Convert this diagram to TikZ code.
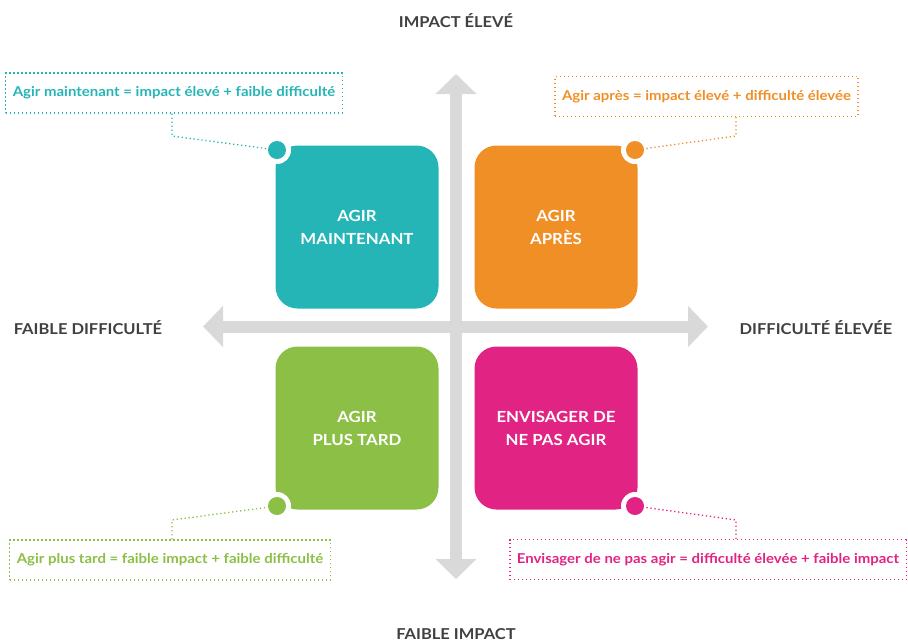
\documentclass[tikz,border=0pt]{standalone}
\usepackage{fontspec}
\setmainfont{Lato}[FakeStretch=1.1]
\usetikzlibrary{arrows.meta}
\definecolor{teal1}{RGB}{37,181,183}
\definecolor{orange1}{RGB}{240,143,37}
\definecolor{green1}{RGB}{139,191,69}
\definecolor{pink1}{RGB}{225,35,131}
\definecolor{axisgray}{RGB}{217,217,217}
\definecolor{labelgray}{RGB}{64,64,64}
\begin{document}
\begin{tikzpicture}[x=1pt,y=-1pt]
  \tikzstyle{axis}=[draw=axisgray,line width=12pt,{Triangle[length=20pt,width=40pt]}-{Triangle[length=20pt,width=40pt]}]
  \tikzstyle{axislabel}=[text=labelgray,font=\bfseries\fontsize{15}{17}\selectfont]
  \tikzstyle{quad}=[rounded corners=22pt,minimum size=163pt,text=white,align=center,font=\bfseries\fontsize{15.3}{23}\selectfont]
  \tikzstyle{ring}=[circle,fill=white,minimum size=28pt,inner sep=0pt]
  \tikzstyle{dot}=[circle,minimum size=18pt,inner sep=0pt]
  \tikzstyle{callout}=[line width=1.3pt,dash pattern=on 1.3pt off 2.7pt,minimum height=40pt,inner xsep=7pt,font=\bfseries\fontsize{13.6}{15}\selectfont]
  \tikzstyle{link}=[line width=1.3pt,dash pattern=on 1.3pt off 2.7pt]
  \useasboundingbox (0,0) rectangle (908,641);
  % axes
  \coordinate (left) at (203,326.5);
  \coordinate (right) at (708,326.5);
  \coordinate (top) at (456,74);
  \coordinate (bottom) at (456,579);
  \draw[axis] (left) -- (right);
  \draw[axis] (bottom) -- (top);
  \node[axislabel] (impH) at (456,21) {IMPACT ÉLEVÉ};
  \node[axislabel] (impL) at (456,634) {FAIBLE IMPACT};
  \node[axislabel] (difL) at (88,328) {FAIBLE DIFFICULTÉ};
  \node[axislabel] (difH) at (816,328) {DIFFICULTÉ ÉLEVÉE};
  % quadrants
  \node[quad,fill=teal1] (now) at (357,227) {AGIR\\MAINTENANT};
  \node[quad,fill=orange1] (after) at (556,227) {AGIR\\APRÈS};
  \node[quad,fill=green1] (later) at (357,428) {AGIR\\PLUS TARD};
  \node[quad,fill=pink1] (never) at (556,428) {ENVISAGER DE\\NE PAS AGIR};
  % dots
  \node[ring] at (277,150) {};
  \node[ring] at (635,150) {};
  \node[ring] at (277,506) {};
  \node[ring] at (635,506) {};
  \node[dot,fill=teal1] (dotA) at (277,150) {};
  \node[dot,fill=orange1] (dotB) at (635,150) {};
  \node[dot,fill=green1] (dotC) at (277,506) {};
  \node[dot,fill=pink1] (dotD) at (635,506) {};
  % callouts
  \node[callout,draw=teal1,text=teal1] (calA) at (174,93) {Agir maintenant = impact élevé + faible difficulté};
  \node[callout,draw=orange1,text=orange1] (calB) at (706.5,96.5) {Agir après = impact élevé + difficulté élevée};
  \node[callout,draw=green1,text=green1] (calC) at (170,560) {Agir plus tard = faible impact + faible difficulté};
  \node[callout,draw=pink1,text=pink1] (calD) at (708,559.5) {Envisager de ne pas agir = difficulté élevée + faible impact};
  \coordinate (kA) at (172,136);
  \coordinate (kB) at (736,136);
  \coordinate (kC) at (172,520);
  \coordinate (kD) at (736,520);
  \draw[link,teal1] (calA.south -| kA) -- (kA) -- (dotA);
  \draw[link,orange1] (calB.south -| kB) -- (kB) -- (dotB);
  \draw[link,green1] (calC.north -| kC) -- (kC) -- (dotC);
  \draw[link,pink1] (calD.north -| kD) -- (kD) -- (dotD);
\end{tikzpicture}
\end{document}
